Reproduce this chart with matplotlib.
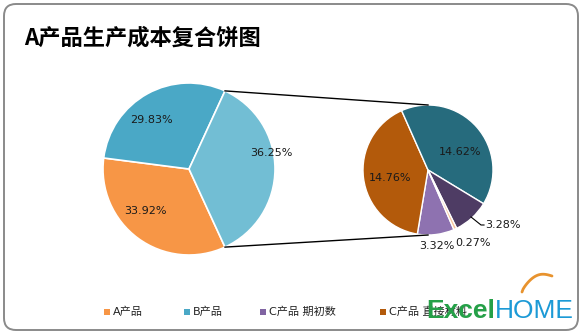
import numpy as np
import matplotlib
matplotlib.use('Agg')
import matplotlib.pyplot as plt
from matplotlib.patches import FancyBboxPatch, Rectangle

plt.rcParams['font.family'] = ['DejaVu Sans', 'Noto Sans CJK SC']

# main pie: A, B, and C (C is split in the secondary pie)
main_names = ['A产品', 'B产品', 'C产品']
main_vals = [33.92, 29.83, 36.25]
main_colors = ['#F79646', '#4AA8C6', '#72BED4']

# C product breakdown, clockwise from the bottom
sub_vals = [3.32, 14.76, 14.62, 3.28, 0.27]
sub_colors = ['#8E72B0', '#B35A0B', '#266B7D', '#4E3C64', '#F8C29A']

legend_names = ['A产品', 'B产品', 'C产品 期初数', 'C产品 直接材料']
legend_colors = ['#F79646', '#4AA8C6', '#8064A2', '#B35A0B']

W, H = 582, 334
fig = plt.figure(figsize=(W / 100, H / 100), dpi=100)
ax = fig.add_axes([0, 0, 1, 1])

# chart frame
ax.add_patch(FancyBboxPatch((4, 4), W - 8, H - 8, boxstyle='round,pad=0,rounding_size=12',
                            fc='white', ec='#8A8A8A', lw=1.4, zorder=0))

ax.text(24, H - 38, 'A产品生产成本复合饼图', fontsize=16, fontweight='bold',
        family=['Noto Sans CJK SC'], va='center', ha='left')

c1, r1 = (189, 165), 86
c2, r2 = (428, 164), 65

start1 = 360 * (main_vals[0] + main_vals[1] + main_vals[2] / 2) / 100
w1, _ = ax.pie(main_vals, colors=main_colors, center=c1, radius=r1, startangle=start1,
               counterclock=False, wedgeprops=dict(edgecolor='white', linewidth=1.2),
               frame=True)
w2, _ = ax.pie(sub_vals, colors=sub_colors, center=c2, radius=r2, startangle=293.5,
               counterclock=False, wedgeprops=dict(edgecolor='white', linewidth=1.0),
               frame=True)
ax.set_xlim(0, W)
ax.set_ylim(0, H)
ax.set_aspect('equal')
ax.axis('off')


def polar(c, r, ang):
    a = np.deg2rad(ang)
    return c[0] + r * np.cos(a), c[1] + r * np.sin(a)


# labels on the main pie (angle shift, radius fraction)
main_lab = [(-10, 0.70), (8, 0.72), (11, 0.98)]
for w, v, (da, fr) in zip(w1, main_vals, main_lab):
    mid = (w.theta1 + w.theta2) / 2 + da
    x, y = polar(c1, r1 * fr, mid)
    ax.text(x, y, f'{v:.2f}%', fontsize=8, ha='center', va='center', color='#1a1a1a')

# secondary pie labels; None -> label outside with a leader line
sub_lab = [(0, 1.18), (5, 0.60), (-12, 0.57), None, (7, 1.32)]
for w, v, lab in zip(w2, sub_vals, sub_lab):
    mid = (w.theta1 + w.theta2) / 2
    if lab is None:
        x0, y0 = polar(c2, r2 * 0.98, mid)
        ax.plot([x0, x0 + 10, x0 + 13], [y0, y0 - 8, y0 - 8], color='black', lw=0.8)
        ax.text(x0 + 14, y0 - 8, f'{v:.2f}%', fontsize=8, ha='left', va='center',
                color='#1a1a1a')
        continue
    da, fr = lab
    x, y = polar(c2, r2 * fr, mid + da)
    ax.text(x, y, f'{v:.2f}%', fontsize=8, ha='center', va='center', color='#1a1a1a')

# connector lines from the C wedge to the secondary pie
wc = w1[2]
for ang, sy in [(wc.theta2, 1), (wc.theta1, -1)]:
    x, y = polar(c1, r1, ang)
    ax.plot([x, c2[0]], [y, c2[1] + sy * r2], color='black', lw=1.0, zorder=1)

# legend along the bottom
leg_x = [107, 187, 263, 383]
for x, name, col in zip(leg_x, legend_names, legend_colors):
    ax.add_patch(Rectangle((x - 3, H - 312 - 3), 6, 6, fc=col, ec='none'))
    ax.text(x + 6, H - 312, name, fontsize=8, va='center', ha='left',
            family=['DejaVu Sans', 'Noto Sans CJK SC'], color='#222222')

# watermark
ax.text(426, H - 311, 'Excel', fontsize=19, fontweight='bold', family='Liberation Sans',
        color='#25A048', va='center', ha='left', zorder=5)
ax.text(495, H - 311, 'HOME', fontsize=19, family='Liberation Sans',
        color='#1C9AD6', va='center', ha='left', zorder=5)
t = np.linspace(0, 1, 30)
ax.plot(522 + 30 * t, H - (292 - 16 * t ** 0.6 - 6 * np.sin(np.pi * t)), color='#E8932E',
        lw=2, zorder=5, solid_capstyle='round')

fig.savefig('out.png', dpi=100)
